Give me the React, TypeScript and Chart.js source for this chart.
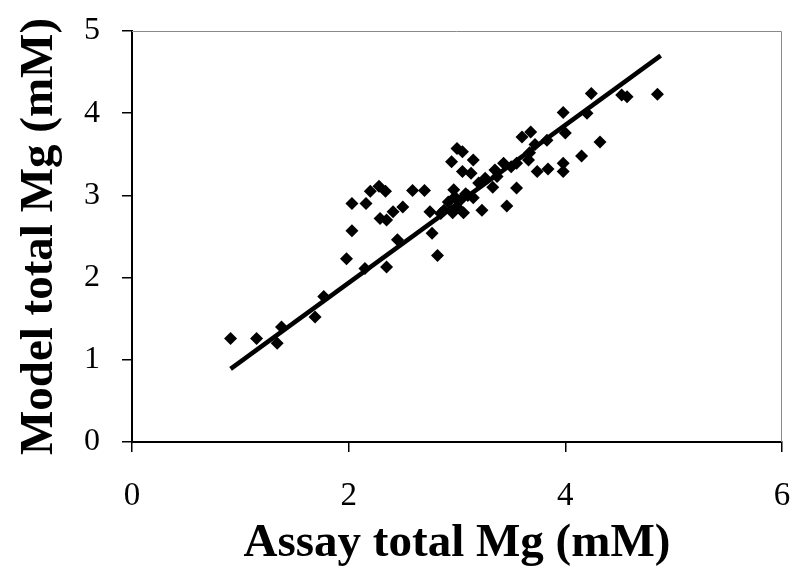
import React, { useEffect, useRef } from "react";
import { Chart, registerables } from "chart.js";

Chart.register(...registerables);

// Assay total Mg (mM) vs Model total Mg (mM)
const assayMg: number[] = [
  0.91, 1.15, 1.34, 1.38, 1.69, 1.77, 1.98, 2.03, 2.03, 2.16,
  2.15, 2.20, 2.28, 2.34, 2.35, 2.29, 2.35, 2.41, 2.50, 2.45,
  2.59, 2.70, 2.75, 2.85, 2.77, 2.82, 2.88, 2.96, 3.03, 3.06,
  3.15, 2.97, 3.00, 3.05, 2.95, 3.15, 3.05, 3.13, 3.23, 3.26,
  3.33, 3.35, 3.37, 3.43, 3.46, 3.55, 3.55, 3.60, 3.66, 3.68,
  3.74, 3.84, 3.83, 3.98, 4.00, 3.98, 3.98, 4.15, 4.20, 4.24,
  4.32, 4.52, 4.57, 4.85, 2.92, 3.00, 3.08, 2.98, 3.20, 3.67,
  3.72, 3.10, 3.50,
];
const modelMg: number[] = [
  1.26, 1.26, 1.20, 1.40, 1.52, 1.77, 2.23, 2.57, 2.90, 2.90,
  2.11, 3.05, 3.11, 3.05, 2.13, 2.72, 2.70, 2.80, 2.86, 2.46,
  3.06, 3.06, 2.80, 2.78, 2.54, 2.27, 2.82, 2.79, 2.94, 2.79,
  2.97, 3.07, 3.57, 3.53, 3.41, 3.43, 3.29, 3.27, 2.82, 3.21,
  3.10, 3.31, 3.23, 3.39, 2.87, 3.09, 3.39, 3.71, 3.43, 3.77,
  3.29, 3.32, 3.67, 4.01, 3.76, 3.39, 3.29, 3.48, 4.00, 4.24,
  3.65, 4.22, 4.20, 4.23, 2.92, 2.86, 3.02, 2.98, 3.15, 3.52,
  3.62, 3.00, 3.35,
];

// Fitted regression line end points
const fitX: number[] = [0.91, 4.88];
const fitY: number[] = [0.89, 4.70];

const xTicks: number[] = [0, 2, 4, 6];
const yTicks: number[] = [0, 1, 2, 3, 4, 5];

const xTitle = "Assay total Mg (mM)";
const yTitle = "Model total Mg (mM)";

const FONT = '"Liberation Serif", "Times New Roman", serif';

const frameBorder = {
  id: "frameBorder",
  beforeDatasetsDraw(chart: any) {
    const { ctx, chartArea } = chart;
    ctx.save();
    ctx.strokeStyle = "#8a8a8a";
    ctx.lineWidth = 1;
    ctx.beginPath();
    ctx.moveTo(chartArea.left, chartArea.top + 0.5);
    ctx.lineTo(chartArea.right - 0.5, chartArea.top + 0.5);
    ctx.lineTo(chartArea.right - 0.5, chartArea.bottom);
    ctx.stroke();
    ctx.restore();
  },
};

export default function App() {
  const ref = useRef<HTMLCanvasElement | null>(null);

  useEffect(() => {
    if (!ref.current) return;
    const points = assayMg.map((x, i) => ({ x, y: modelMg[i] }));
    const line = fitX.map((x, i) => ({ x, y: fitY[i] }));
    const chart = new Chart(ref.current, {
      type: "scatter",
      data: {
        datasets: [
          {
            label: "fit",
            data: line,
            showLine: true,
            borderColor: "#000",
            borderWidth: 4.5,
            pointRadius: 0,
            pointHoverRadius: 0,
          },
          {
            label: "data",
            data: points,
            pointStyle: "rectRot",
            pointRadius: 6.5,
            pointHoverRadius: 6.5,
            backgroundColor: "#000",
            borderColor: "#000",
            borderWidth: 0,
          },
        ],
      },
      options: {
        responsive: false,
        animation: false,
        devicePixelRatio: 1,
        layout: { padding: { left: 0, top: 31, right: 10, bottom: 0 } },
        plugins: {
          legend: { display: false },
          tooltip: { enabled: false },
        },
        scales: {
          x: {
            type: "linear",
            min: 0,
            max: 6,
            afterFit: (s: any) => {
              s.height = 125;
              s.paddingLeft = 0;
              s.paddingRight = 0;
            },
            afterBuildTicks: (s: any) => {
              s.ticks = xTicks.map((v) => ({ value: v }));
            },
            ticks: {
              color: "#000",
              padding: 25,
              font: { family: FONT, size: 33 },
            },
            grid: {
              drawOnChartArea: false,
              drawTicks: true,
              tickLength: 10,
              color: "#000",
              lineWidth: 1.5,
            },
            border: { display: true, color: "#000", width: 2 },
            title: {
              display: true,
              text: xTitle,
              color: "#000",
              font: { family: FONT, size: 47, weight: "bold", lineHeight: 1 },
              padding: { top: 0, bottom: 0 },
            },
          },
          y: {
            type: "linear",
            min: 0,
            max: 5,
            afterFit: (s: any) => {
              s.width = 132;
              s.paddingTop = 0;
              s.paddingBottom = 0;
            },
            afterBuildTicks: (s: any) => {
              s.ticks = yTicks.map((v) => ({ value: v }));
            },
            ticks: {
              color: "#000",
              padding: 22,
              font: { family: FONT, size: 32 },
            },
            grid: {
              drawOnChartArea: false,
              drawTicks: true,
              tickLength: 10,
              color: "#000",
              lineWidth: 1.5,
            },
            border: { display: true, color: "#000", width: 2 },
            title: {
              display: true,
              text: yTitle,
              color: "#000",
              font: { family: FONT, size: 47, weight: "bold", lineHeight: 1 },
              padding: { top: 16, bottom: 0 },
            },
          },
        },
      },
      plugins: [frameBorder],
    });
    return () => chart.destroy();
  }, []);

  return (
    <div style={{ position: "absolute", left: 0, top: 0, width: 792, height: 567, background: "#fff" }}>
      <canvas ref={ref} width={792} height={567} style={{ display: "block" }} />
    </div>
  );
}
